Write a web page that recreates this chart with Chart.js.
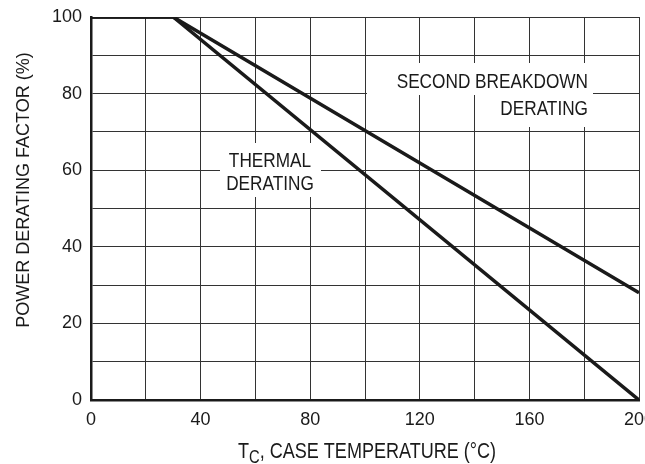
<!DOCTYPE html>
<html>
<head>
<meta charset="utf-8">
<script src="https://cdn.jsdelivr.net/npm/chart.js@4/dist/chart.umd.min.js"></script>
<style>
  html, body { margin: 0; padding: 0; background: #fff; }
  canvas { display: block; }
</style>
</head>
<body>
<canvas id="derating" width="645" height="464"></canvas>
<script>
// case temperature (C) and derating factor (%)
var tempC = [0, 30, 200];
var thermal = [100, 100, 0];
var secondBreakdown = [100, 100, 28];
var xTickLabels = [0, 40, 80, 120, 160, 200];
var yTickLabels = [0, 20, 40, 60, 80, 100];

var INK = "#1a1a1a";
var FONT = "'Liberation Sans', Arial, sans-serif";
var SQUEEZE = 0.82; // condensed look for horizontal text

function toPoints(ys) {
    var pts = [];
    for (var i = 0; i < tempC.length; i++) {
        pts.push({ x: tempC[i], y: ys[i] });
    }
    return pts;
}

// draw horizontally condensed text, returns drawn width
function narrowText(ctx, text, x, y, size, align) {
    ctx.save();
    ctx.font = size + "px " + FONT;
    ctx.textAlign = align || "left";
    ctx.textBaseline = "alphabetic";
    ctx.translate(x, y);
    ctx.scale(SQUEEZE, 1);
    ctx.fillText(text, 0, 0);
    var w = ctx.measureText(text).width * SQUEEZE;
    ctx.restore();
    return w;
}

// white label boxes + text, axis titles
var labelsPlugin = {
    id: "labels",
    beforeDatasetsDraw: function (chart) {
        var ctx = chart.ctx;
        ctx.save();
        ctx.fillStyle = "#fff";
        ctx.fillRect(367, 63, 226, 32);
        ctx.fillRect(490, 95, 103, 32);
        ctx.fillRect(220, 143, 101, 54);

        ctx.fillStyle = INK;
        narrowText(ctx, "SECOND BREAKDOWN", 588, 88, 21, "right");
        narrowText(ctx, "DERATING", 588, 115, 21, "right");
        narrowText(ctx, "THERMAL", 270, 167, 21, "center");
        narrowText(ctx, "DERATING", 270, 190, 21, "center");
        ctx.restore();
    },
    afterDraw: function (chart) {
        var ctx = chart.ctx;
        ctx.save();
        ctx.fillStyle = INK;

        // x title with subscript C
        var x = 238;
        x += narrowText(ctx, "T", x, 458, 22);
        x += narrowText(ctx, "C", x, 463, 18);
        narrowText(ctx, ", CASE TEMPERATURE (\u00B0C)", x, 458, 22);

        // y title
        ctx.translate(24, 190);
        ctx.rotate(-Math.PI / 2);
        ctx.font = "18px " + FONT;
        ctx.textAlign = "center";
        ctx.textBaseline = "middle";
        ctx.fillText("POWER DERATING FACTOR (%)", 0, 0);
        ctx.restore();
    },
};

new Chart(document.getElementById("derating").getContext("2d"), {
    type: "line",
    data: {
        datasets: [
            { label: "Thermal", data: toPoints(thermal) },
            { label: "Second breakdown", data: toPoints(secondBreakdown) },
        ],
    },
    options: {
        responsive: false,
        animation: false,
        events: [],
        layout: { padding: { top: 17, right: 6, bottom: 0, left: 0 } },
        elements: {
            line: { borderColor: INK, borderWidth: 3.5, tension: 0 },
            point: { radius: 0 },
        },
        plugins: { legend: { display: false }, tooltip: { enabled: false } },
        scales: {
            x: {
                type: "linear",
                min: 0,
                max: 200,
                afterFit: function (s) {
                    s.height = 64;
                    s.paddingLeft = 0;
                    s.paddingRight = 0;
                },
                grid: { color: "#333", lineWidth: 1, drawTicks: false },
                border: { color: INK, width: 2.5 },
                ticks: {
                    stepSize: 20,
                    padding: 9,
                    maxRotation: 0,
                    autoSkip: false,
                    color: INK,
                    font: { family: FONT, size: 18 },
                    callback: function (v) {
                        return xTickLabels.indexOf(v) >= 0 ? v : "";
                    },
                },
            },
            y: {
                min: 0,
                max: 100,
                afterFit: function (s) {
                    s.width = 91;
                    s.paddingTop = 0;
                    s.paddingBottom = 0;
                },
                grid: { color: "#333", lineWidth: 1, drawTicks: false },
                border: { color: INK, width: 2.5 },
                ticks: {
                    stepSize: 10,
                    padding: 9,
                    autoSkip: false,
                    color: INK,
                    font: { family: FONT, size: 18 },
                    callback: function (v) {
                        return yTickLabels.indexOf(v) >= 0 ? v : "";
                    },
                },
            },
        },
    },
    plugins: [labelsPlugin],
});
</script>
</body>
</html>
